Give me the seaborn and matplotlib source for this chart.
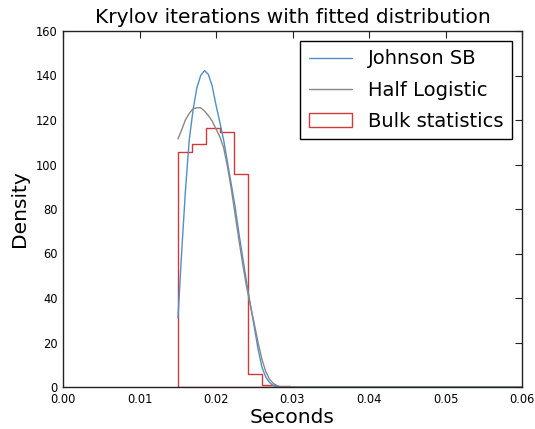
import numpy as np
import pandas as pd
import matplotlib
matplotlib.use("Agg")
import matplotlib.pyplot as plt
from matplotlib.lines import Line2D
from matplotlib.patches import Patch
import seaborn as sns

# ---- data ----
bin_edges = [0.01503, 0.01686, 0.01870, 0.02053, 0.02236, 0.02420, 0.02603, 0.02786, 0.02969]
bin_density = [105.5, 109.0, 116.2, 114.8, 95.6, 6.0, 0.9, 0.5]

curve_x = [0.01503, 0.0155, 0.0160, 0.0165, 0.0170, 0.0175, 0.0180, 0.0185, 0.0190,
           0.0195, 0.0200, 0.0205, 0.0210, 0.0215, 0.0220, 0.0225, 0.0230, 0.0235,
           0.0240, 0.0245, 0.0250, 0.0255, 0.0260, 0.0265, 0.0270, 0.0275, 0.0280,
           0.0285, 0.0290, 0.0600]
johnson_sb = [31.0, 60.0, 88.0, 111.0, 124.5, 134.5, 140.0, 142.2, 140.5,
              135.3, 126.7, 119.0, 111.0, 101.0, 91.0, 81.0, 69.0, 58.0,
              47.0, 37.0, 27.0, 17.0, 9.0, 4.5, 2.0, 0.7, 0.1,
              0.0, 0.0, 0.0]
half_logistic = [111.5, 115.5, 120.0, 123.0, 125.0, 125.5, 125.5, 124.0, 122.0,
                 119.5, 116.0, 112.5, 107.5, 99.0, 89.0, 77.5, 66.0, 55.0,
                 45.0, 36.5, 28.5, 20.0, 12.5, 7.0, 3.5, 1.6, 0.6,
                 0.1, 0.0, 0.0]

title = "Krylov iterations with fitted distribution"
xlabel = "Seconds"
ylabel = "Density"
labels = ["Johnson SB", "Half Logistic", "Bulk statistics"]

c_blue = "#4f8fcb"
c_gray = "#888888"
c_red = "#d03a3a"

sns.set_style("white")
plt.rcParams["font.family"] = ["DejaVu Sans"]
plt.rcParams["text.color"] = "black"

fig = plt.figure(figsize=(5.35, 4.29), dpi=100)
ax = fig.add_axes([63 / 535, 42 / 429, (522 - 63) / 535, (387 - 31) / 429])

centers = [(a + b) / 2 for a, b in zip(bin_edges[:-1], bin_edges[1:])]
hist_df = pd.DataFrame({"x": centers, "w": bin_density})
sns.histplot(data=hist_df, x="x", weights="w", bins=bin_edges, element="step",
             fill=True, facecolor="none", edgecolor=c_red, color=c_red,
             linewidth=1.0, ax=ax, stat="count")

curves = pd.DataFrame({"x": curve_x, "jsb": johnson_sb, "hl": half_logistic})
sns.lineplot(data=curves, x="x", y="jsb", color=c_blue, linewidth=1.0, ax=ax)
sns.lineplot(data=curves, x="x", y="hl", color=c_gray, linewidth=1.0, ax=ax)

ax.set_xlim(0, 0.06)
ax.set_ylim(0, 160)
ax.set_xticks(np.arange(0, 0.0601, 0.01))
ax.set_xticklabels(["0.00", "0.01", "0.02", "0.03", "0.04", "0.05", "0.06"])
ax.set_yticks(np.arange(0, 161, 20))
ax.tick_params(direction="in", top=True, right=True, length=5, width=0.8,
               labelsize=8.3, colors="#222222", labelcolor="black", pad=4)
for s in ax.spines.values():
    s.set_color("#222222")
    s.set_linewidth(1.0)
    s.set_zorder(3)

ax.set_title(title, fontsize=14.5, pad=6, color="black")
ax.set_xlabel(xlabel, fontsize=14.5, labelpad=2, color="black")
ax.set_ylabel(ylabel, fontsize=14.5, labelpad=5, color="black")

handles = [Line2D([0], [0], color=c_blue, lw=1.0),
           Line2D([0], [0], color=c_gray, lw=1.0),
           Patch(facecolor="none", edgecolor=c_red, lw=1.0)]
leg = ax.legend(handles, labels, loc="upper right", fontsize=14, fancybox=False,
                frameon=True, edgecolor="black", framealpha=1.0,
                borderaxespad=0.5, handlelength=2.2, handleheight=0.75,
                handletextpad=0.85, labelspacing=0.62, borderpad=0.45)
leg.get_frame().set_linewidth(1.0)

fig.savefig("out.png", dpi=100, facecolor="white")
